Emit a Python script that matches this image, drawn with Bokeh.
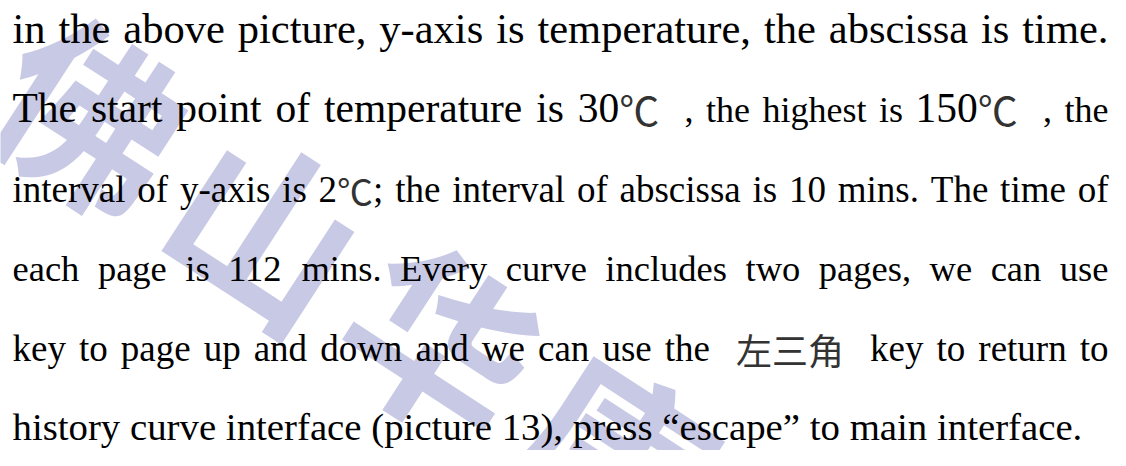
from bokeh.plotting import figure
from bokeh.models import Range1d, ColumnDataSource
from bokeh.core.properties import value
from bokeh.embed import file_html
from bokeh.resources import INLINE

# ---------------- content ----------------
SERIF = "serif"
CJK = "cjk"

line1 = [("in the above picture, y-axis is temperature, the abscissa is time.", SERIF, 42.5)]
line2 = [("The start point of temperature is 30", SERIF, 41.5),
         ("℃", CJK, 40),
         ("  , the highest is ", SERIF, 36),
         ("150", SERIF, 41.5),
         ("℃", CJK, 40),
         ("  , the", SERIF, 36)]
line3 = [("interval of y-axis is 2", SERIF, 37),
         ("℃", CJK, 36),
         ("; the interval of abscissa is 10 mins. The time of", SERIF, 37)]
line4 = [("each page is 112 mins. Every curve includes two pages, we can use", SERIF, 36.5)]
line5 = [("key to page up and down and we can use the  ", SERIF, 37),
         ("左三角", CJK, 36),
         ("  key to return to", SERIF, 37)]
line6 = [("history curve interface (picture 13), press \u201cescape\u201d to main interface.", SERIF, 38.8)]

LINES = [line1, line2, line3, line4, line5, line6]
JUSTIFY = [True, True, True, True, True, False]

watermark_chars = ["佛", "山", "华", "康"]

# ---------------- layout (page pixels) ----------------
W_PX, H_PX = 1110, 450
LEFT, RIGHT = 12, 1108
FIRST_BASELINE, LINE_STEP = 43, 79.4
BASELINE_FIX = 0.35        # em; compensates the renderer's vertical text offset
WM_START = (95, 108)
WM_STEP = (175, 113)
WM_ANGLE = -0.576

# Times / Liberation Serif advance widths (1/1000 em)
WIDTHS = {" ": 250, ",": 250, ".": 250, "-": 333, ";": 278, "(": 333, ")": 333,
          "\u201c": 444, "\u201d": 444, "E": 611, "T": 611,
          "a": 444, "b": 500, "c": 444, "d": 500, "e": 444, "f": 333, "g": 500,
          "h": 500, "i": 278, "k": 500, "l": 278, "m": 778, "n": 500, "o": 500,
          "p": 500, "r": 333, "s": 389, "t": 278, "u": 500, "v": 500, "w": 722,
          "x": 500, "y": 500}


def glyph_w(ch, face):
    if face == CJK:
        return 1000
    if ch.isdigit():
        return 500
    return WIDTHS.get(ch, 500)


def text_w(t, face, size):
    return sum(glyph_w(c, face) for c in t) / 1000.0 * size


rows = {SERIF: dict(x=[], y=[], text=[], size=[]), CJK: dict(x=[], y=[], text=[], size=[])}
for i, (runs, just) in enumerate(zip(LINES, JUSTIFY)):
    base = FIRST_BASELINE + i * LINE_STEP
    items = []
    for text, face, size in runs:
        word = ""
        for ch in text:
            if ch == " ":
                if word:
                    items.append(("w", word, face, size))
                    word = ""
                items.append(("s", " ", face, size))
            else:
                word += ch
        if word:
            items.append(("w", word, face, size))
    natural = sum(text_w(t, f, s) for _, t, f, s in items)
    nsp = sum(1 for it in items if it[0] == "s")
    extra = (RIGHT - LEFT - natural) / nsp if (just and nsp) else 0.0
    x = LEFT
    for kind, t, f, s in items:
        w = text_w(t, f, s)
        if kind == "w":
            rows[f]["x"].append(x)
            rows[f]["y"].append(base - BASELINE_FIX * s)
            rows[f]["text"].append(t)
            rows[f]["size"].append("%.1fpx" % s)
            x += w
        else:
            x += w + extra

p = figure(width=W_PX, height=H_PX, x_range=Range1d(0, W_PX), y_range=Range1d(H_PX, 0),
           output_backend="svg", toolbar_location=None, min_border=0)
p.axis.visible = False
p.grid.visible = False
p.outline_line_color = None
p.background_fill_color = "white"
p.border_fill_color = "white"

wm_x = [WM_START[0] + k * WM_STEP[0] for k in range(len(watermark_chars))]
wm_y = [WM_START[1] + k * WM_STEP[1] for k in range(len(watermark_chars))]
p.text(x=wm_x, y=wm_y, text=watermark_chars, angle=WM_ANGLE,
       text_align="center", text_baseline="middle",
       text_font=value("Noto Sans CJK SC"), text_font_style="bold",
       text_font_size=value("185px"), text_color="#c8c9e5")

p.text(x="x", y="y", text="text", source=ColumnDataSource(rows[SERIF]),
       text_font=value("Liberation Serif"), text_font_size="size",
       text_align="left", text_baseline="alphabetic", text_color="black")
p.text(x="x", y="y", text="text", source=ColumnDataSource(rows[CJK]),
       text_font=value("Noto Sans CJK SC"), text_font_size="size",
       text_align="left", text_baseline="alphabetic", text_color="#333333")

open("out.html", "w").write(file_html(p, INLINE))
